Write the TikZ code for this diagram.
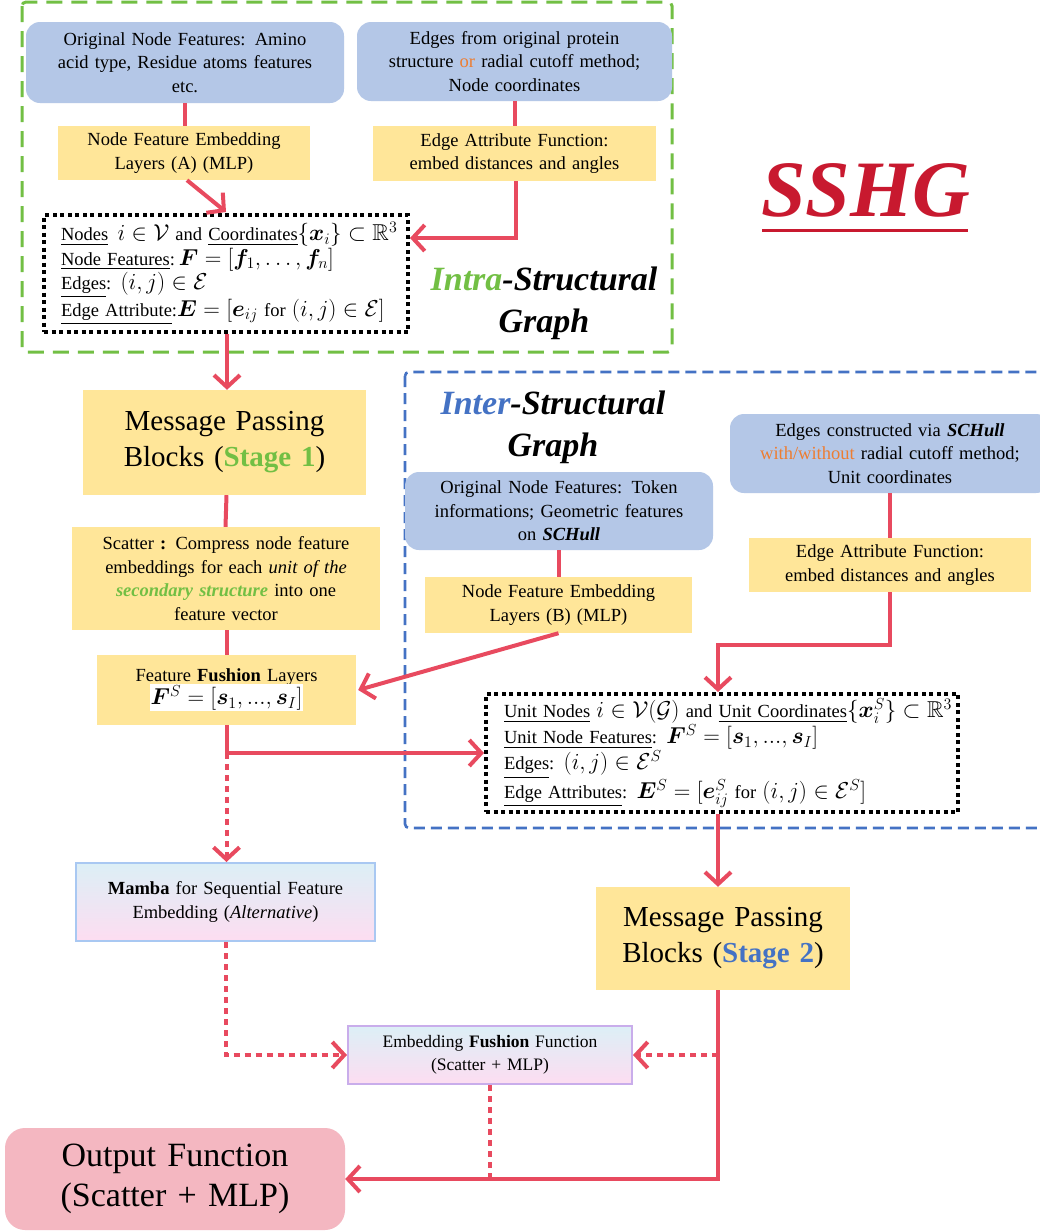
\RequirePackage{fix-cm}
\documentclass[tikz,border=0pt]{standalone}
\usepackage{amsmath,amssymb,bm}
\usepackage[no-math]{fontspec}
\setmainfont{Liberation Serif}
\usetikzlibrary{arrows.meta,calc}
\DeclareMathSizes{18.5}{23}{16}{12}
\definecolor{blueFill}{HTML}{B4C7E7}
\definecolor{yellowFill}{HTML}{FFE699}
\definecolor{arrowRed}{HTML}{E84A5F}
\definecolor{greenC}{HTML}{72BF44}
\definecolor{blueC}{HTML}{4472C4}
\definecolor{orangeC}{HTML}{ED7D31}
\definecolor{pinkOut}{HTML}{F4B7C1}
\definecolor{sshgRed}{HTML}{C8192F}
\definecolor{gradTop}{HTML}{DCEFF6}
\definecolor{gradMid}{HTML}{FDEBDC}
\definecolor{gradBot}{HTML}{FDDDF1}
\definecolor{mambaBorder}{HTML}{A9C8F2}
\definecolor{efBorder}{HTML}{C9ADEB}
\newcommand\fsz[2]{\fontsize{#1}{#2}\selectfont}
\tikzset{
  blueb/.style={fill=blueFill, rounded corners=14pt, align=center, inner sep=0pt, font=\fsz{18.5}{23.5}},
  yelb/.style={fill=yellowFill, align=center, inner sep=0pt, font=\fsz{18.5}{23.5}},
  dotb/.style={draw=black, line width=4pt, dash pattern=on 4pt off 3.5pt, align=left, inner sep=0pt, font=\fsz{18.5}{24.5}},
  gradb/.style={top color=gradTop, middle color=gradMid, bottom color=gradBot, line width=2pt, align=center, inner sep=0pt},
  conn/.style={draw=arrowRed, line width=4pt},
  arr/.style={conn, -{Straight Barb[length=12pt,width=26pt]}},
  dconn/.style={conn, dash pattern=on 6pt off 5pt},
  darr/.style={arr, dash pattern=on 6pt off 5pt},
  titleT/.style={font=\fsz{34}{42}\bfseries\itshape, align=center, inner sep=0pt},
}
\begin{document}
\begin{tikzpicture}[x=1pt,y=-1pt]
\clip (0,0) rectangle (1040,1232);
\fill[white] (0,0) rectangle (1040,1232);
% containers
\draw[greenC, line width=3pt, dash pattern=on 16pt off 9pt, rounded corners=4pt] (22,2) rectangle (672,352);
\draw[blueC, line width=2.6pt, dash pattern=on 11pt off 6pt, rounded corners=4pt] (405,372) rectangle (1060,828);

% intra structural part
\node[blueb, minimum width=318pt, minimum height=81pt, text width=310pt] (b1) at (185,62.5)
  {Original Node Features: Amino\\acid type, Residue atoms features\\etc.};
\node[blueb, minimum width=315pt, minimum height=79pt, text width=305pt] (b2) at (514.5,61.5)
  {Edges from original protein\\structure \textcolor{orangeC}{or} radial cutoff method;\\Node coordinates};
\node[yelb, minimum width=252pt, minimum height=54pt, text width=245pt] (y1) at (184,153)
  {Node Feature Embedding\\Layers (A) (MLP)};
\node[yelb, minimum width=283pt, minimum height=55pt, text width=275pt] (y2) at (514.5,153.5)
  {Edge Attribute Function:\\embed distances and angles};
\node[dotb, minimum width=364pt, minimum height=117pt, text width=330pt, inner xsep=17pt] (g1) at (226,273.5)
  {\mbox{\underline{Nodes} \,$i\in\mathcal{V}$ and \underline{Coordinates}$\{\bm{x}_i\}\subset\mathbb{R}^3$}\\
   \mbox{\underline{Node Features}:$\,\bm{F}=[\bm{f}_1,\ldots,\bm{f}_n]$}\\
   \mbox{\underline{Edges}: $(i,j)\in\mathcal{E}$}\\
   \mbox{\underline{Edge Attribute}:$\bm{E}=[\bm{e}_{ij}\text{ for }(i,j)\in\mathcal{E}]$}};
\node[titleT] (intra) at (544,303) {\textcolor{greenC}{Intra}-Structural\\Graph};
\node[font=\fsz{80}{90}\bfseries\itshape, text=sshgRed, inner sep=0pt] (sshg) at (866,190) {SSHG};
\draw[sshgRed, line width=3pt] (762,230) -- (968,230);

\node[yelb, minimum width=283pt, minimum height=105pt, text width=270pt, font=\fsz{29}{36}] (mp1) at (224.5,442.5)
  {Message Passing\\Blocks (\textcolor{greenC}{\textbf{Stage 1}})};
\node[yelb, minimum width=308pt, minimum height=103pt, text width=300pt] (sc) at (226,578.5)
  {Scatter \textbf{:} Compress node feature\\embeddings for each \textit{unit of the}\\\textcolor{greenC}{\textbf{\textit{secondary structure}}} into one\\feature vector};
\node[yelb, minimum width=259pt, minimum height=70pt, text width=250pt] (ff) at (226.5,690)
  {Feature \textbf{Fushion} Layers\\[-2pt]{\setlength\fboxsep{1pt}\colorbox{white}{$\bm{F}^S=[\bm{s}_1,...,\bm{s}_I]$}}};

% inter structural part
\node[titleT] (inter) at (553,427) {\textcolor{blueC}{Inter}-Structural\\Graph};
\node[blueb, minimum width=308pt, minimum height=78pt, text width=300pt] (b3) at (559,511)
  {Original Node Features: Token\\informations; Geometric features\\on \textbf{\textit{SCHull}}};
\node[yelb, minimum width=267pt, minimum height=56pt, text width=260pt] (y3) at (558.5,605)
  {Node Feature Embedding\\Layers (B) (MLP)};
\node[blueb, minimum width=320pt, minimum height=79pt, text width=310pt] (b4) at (890,453.5)
  {Edges constructed via \textbf{\textit{SCHull}}\\\textcolor{orangeC}{with/without} radial cutoff method;\\Unit coordinates};
\node[yelb, minimum width=282pt, minimum height=54pt, text width=275pt] (y4) at (890,565)
  {Edge Attribute Function:\\embed distances and angles};
\node[dotb, minimum width=472pt, minimum height=118pt, text width=436pt, inner xsep=18pt] (g2) at (722,753)
  {\mbox{\underline{Unit Nodes} $i\in\mathcal{V}(\mathcal{G})$ and \underline{Unit Coordinates}$\{\bm{x}_i^S\}\subset\mathbb{R}^3$}\\
   \mbox{\underline{Unit Node Features}: $\bm{F}^S=[\bm{s}_1,...,\bm{s}_I]$}\\
   \mbox{\underline{Edges}: $(i,j)\in\mathcal{E}^S$}\\
   \mbox{\underline{Edge Attributes}: $\bm{E}^S=[\bm{e}_{ij}^S\text{ for }(i,j)\in\mathcal{E}^S]$}};
\node[yelb, minimum width=254pt, minimum height=103pt, text width=245pt, font=\fsz{29}{36}] (mp2) at (723,938.5)
  {Message Passing\\Blocks (\textcolor{blueC}{\textbf{Stage 2}})};

% bottom part
\node[gradb, draw=mambaBorder, minimum width=299pt, minimum height=78pt, text width=290pt, font=\fsz{18.5}{24}] (mamba) at (225.5,902)
  {\textbf{Mamba} for Sequential Feature\\Embedding (\textit{Alternative})};
\node[gradb, draw=efBorder, minimum width=284pt, minimum height=58pt, text width=275pt, font=\fsz{17.5}{23}] (ef) at (490,1055)
  {Embedding \textbf{Fushion} Function\\(Scatter + MLP)};
\node[fill=pinkOut, rounded corners=20pt, minimum width=340pt, minimum height=102pt, text width=330pt, align=center,
      inner sep=0pt, font=\fsz{34}{40}] (out) at (175,1179)
  {Output Function\\(Scatter + MLP)};

% connectors
\draw[conn] (b1.south) -- (b1.south |- y1.north);
\draw[conn] (b2.south) -- (b2.south |- y2.north);
\draw[arr] ([xshift=3pt]y1.south) -- ([yshift=1pt]g1.north);
\draw[arr] ([xshift=1.5pt]y2.south) |- ([yshift=-25pt]g1.north east);
\draw[arr] ([xshift=1pt]g1.south) -- ([xshift=1pt]g1.south |- mp1.north);
\draw[conn] ([xshift=2pt]mp1.south) -- ([xshift=1pt]mp1.south |- sc.north);
\draw[conn] ([xshift=1pt]sc.south) -- ([xshift=1pt]sc.south |- ff.north);
\draw[conn] (b3.south) -- (b3.south |- y3.north);
\draw[arr] (y3.south) -- ([xshift=2pt]ff.east);
\draw[conn] (b4.south) -- (b4.south |- y4.north);
\coordinate (turn) at ([yshift=-53pt]y4.south);
\draw[arr] (y4.south) -- (turn) -| ([xshift=-4pt]g2.north);
\coordinate (split) at (ff.south |- g2.west);
\draw[arr] (ff.south) |- (g2.west);
\draw[darr] (split) -- (split |- mamba.north);
\draw[arr] ([xshift=-4pt]g2.south) -- ([xshift=-4pt]g2.south |- mp2.north);
\draw[arr] ([xshift=-5pt]mp2.south) |- (out.east);
\draw[darr] ([xshift=-5pt]mp2.south |- ef.east) -- (ef.east);
\draw[darr] (mamba.south) |- (ef.west);
\draw[dconn] (ef.south) -- (ef.south |- out.east);
\end{tikzpicture}
\end{document}
